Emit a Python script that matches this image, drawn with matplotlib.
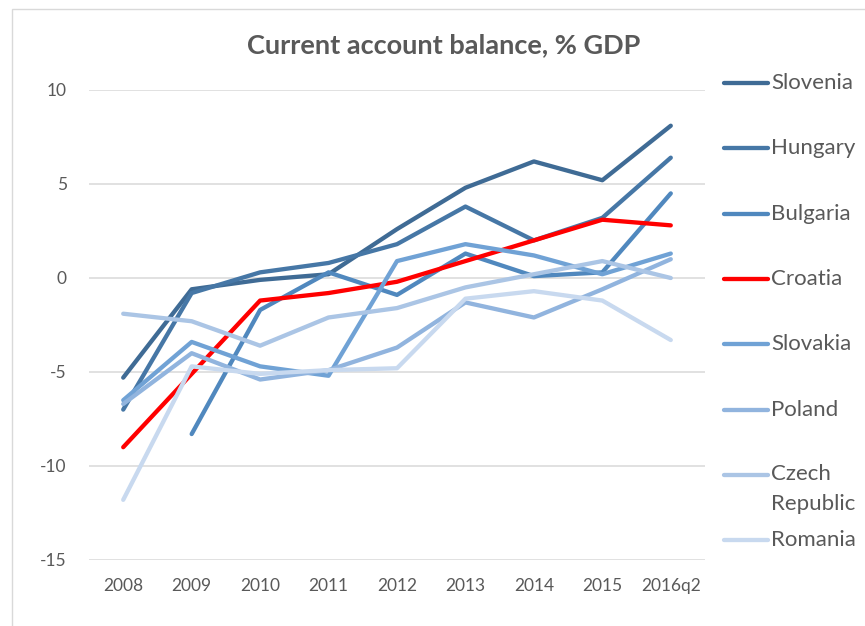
import matplotlib
matplotlib.use('Agg')
from matplotlib import pyplot as plt
from matplotlib.lines import Line2D
from matplotlib.patches import Rectangle

plt.rcParams['font.family'] = ['Lato', 'DejaVu Sans']
plt.rcParams['axes.unicode_minus'] = False

periods = ['2008', '2009', '2010', '2011', '2012', '2013', '2014', '2015', '2016q2']

slovenia = [-5.3, -0.6, -0.1, 0.2, 2.6, 4.8, 6.2, 5.2, 8.1]
hungary = [-7.0, -0.8, 0.3, 0.8, 1.8, 3.8, 2.0, 3.2, 6.4]
bulgaria = [None, -8.3, -1.7, 0.3, -0.9, 1.3, 0.1, 0.3, 4.5]
croatia = [-9.0, -5.1, -1.2, -0.8, -0.2, 0.9, 2.0, 3.1, 2.8]
slovakia = [-6.5, -3.4, -4.7, -5.2, 0.9, 1.8, 1.2, 0.2, 1.3]
poland = [-6.7, -4.0, -5.4, -4.9, -3.7, -1.3, -2.1, -0.6, 1.0]
czech = [-1.9, -2.3, -3.6, -2.1, -1.6, -0.5, 0.2, 0.9, 0.0]
romania = [-11.8, -4.7, -5.1, -4.9, -4.8, -1.1, -0.7, -1.2, -3.3]

names = ['Slovenia', 'Hungary', 'Bulgaria', 'Croatia', 'Slovakia', 'Poland',
         'Czech Republic', 'Romania']
series = [slovenia, hungary, bulgaria, croatia, slovakia, poland, czech, romania]
colors = ['#3f6b95', '#4677a6', '#5088be', '#ff0000', '#70a2d5', '#91b4de',
          '#abc5e5', '#c8d9ef']

TXT = '#595959'
W, H = 865, 626

fig = plt.figure(figsize=(W / 100, H / 100), dpi=100)
ax = fig.add_axes([89 / W, 1 - 560 / H, (705 - 89) / W, (560 - 90) / H])

x = list(range(len(periods)))
for vals, col in zip(series, colors):
    xs = [i for i, v in zip(x, vals) if v is not None]
    ys = [v for v in vals if v is not None]
    ax.plot(xs, ys, color=col, lw=3.1, solid_capstyle='round',
            solid_joinstyle='round')

ax.set_xlim(-0.5, len(periods) - 0.5)
ax.set_ylim(-15, 10)
ax.set_yticks([-15, -10, -5, 0, 5, 10])
ax.set_xticks(x)
ax.set_xticklabels(periods)
ax.grid(axis='y', color='#d9d9d9', lw=1.1)
ax.set_axisbelow(True)
for s in ax.spines.values():
    s.set_visible(False)
ax.tick_params(axis='both', length=0, colors=TXT, labelsize=12.5)
ax.tick_params(axis='y', pad=16)
ax.tick_params(axis='x', pad=13)

fig.text(444 / W, 1 - 45 / H, 'Current account balance, % GDP', ha='center',
         va='center', fontsize=19.5, fontweight='bold', color=TXT)

# legend drawn by hand to keep Excel spacing
for i, (name, col) in enumerate(zip(names, colors)):
    yy = 1 - (83 + 65.3 * i) / H
    fig.add_artist(Line2D([724 / W, 768 / W], [yy, yy], color=col, lw=3.1,
                          solid_capstyle='round'))
    if ' ' in name and len(name) > 10:
        fig.text(771 / W, yy + 11 / H, name.replace(' ', '\n'), ha='left',
                 va='top', fontsize=16, color=TXT, linespacing=1.65)
    else:
        fig.text(771 / W, yy, name, ha='left', va='center', fontsize=16,
                 color=TXT)

fig.add_artist(Rectangle((12 / W, -0.1), 1.2, 1.1 - 9 / H, fill=False,
                         edgecolor='#d9d9d9', lw=1, transform=fig.transFigure))

fig.savefig('out.png', dpi=100)
